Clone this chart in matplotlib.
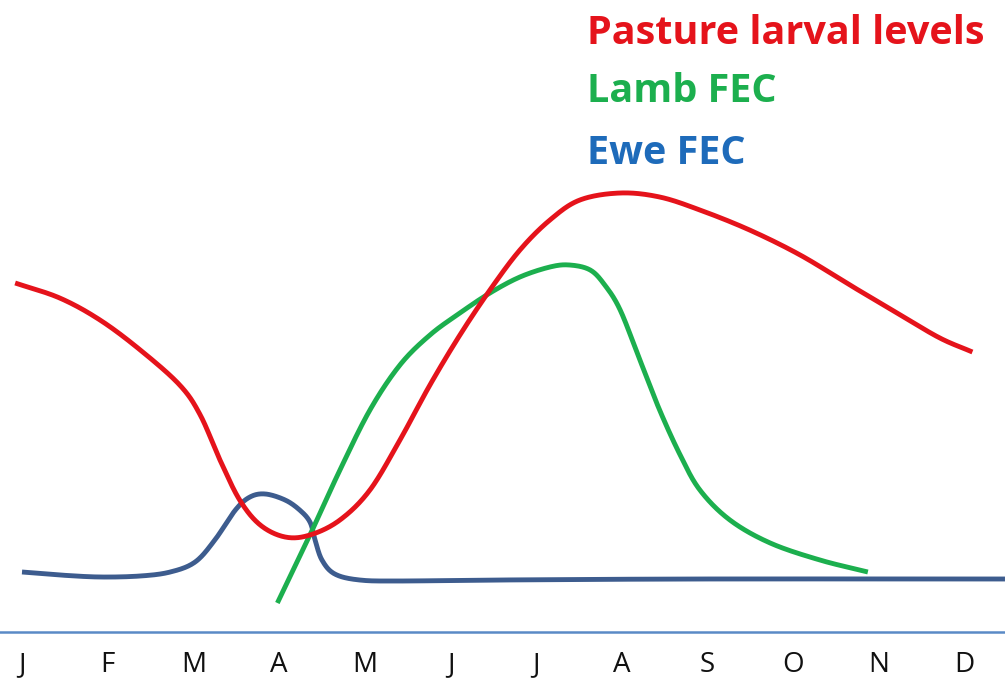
import numpy as np
import matplotlib
matplotlib.use("Agg")
import matplotlib.pyplot as plt

months = ["J", "F", "M", "A", "M", "J", "J", "A", "S", "O", "N", "D"]

# x in months (0 = Jan), y in arbitrary level units
pasture_x = [-0.08, 0.44, 0.91, 1.38, 1.84, 2.08, 2.31, 2.54, 2.78, 3.07, 3.36, 3.71, 4.06, 4.41, 4.76, 5.11, 5.46, 5.81, 6.16, 6.51, 6.98, 7.44, 7.91, 8.49, 9.08, 9.66, 10.25, 10.71, 11.09]
pasture_y = [407, 392, 370, 340, 305, 275, 230, 190, 165, 153, 155, 170, 200, 250, 305, 355, 400, 440, 470, 490, 497, 493, 480, 460, 435, 405, 375, 352, 338]

lamb_x = [2.98, 3.36, 3.71, 4.06, 4.41, 4.76, 5.11, 5.46, 5.81, 6.16, 6.39, 6.63, 6.80, 6.98, 7.21, 7.44, 7.68, 7.91, 8.26, 8.73, 9.31, 9.87]
lamb_y = [87, 155, 220, 280, 325, 355, 377, 397, 413, 423, 425, 420, 405, 380, 330, 280, 235, 200, 170, 147, 130, 118]

ewe_x = [0.0, 0.44, 0.91, 1.38, 1.73, 2.02, 2.25, 2.49, 2.66, 2.84, 3.07, 3.24, 3.36, 3.42, 3.50, 3.65, 3.94, 4.41, 5.58, 7.91, 11.47]
ewe_y = [118, 115, 113, 114, 118, 128, 150, 180, 193, 196, 190, 180, 168, 150, 130, 116, 110, 109, 110, 111, 111]


def smooth(xs, ys, n=30):
    x = np.asarray(xs, float)
    y = np.asarray(ys, float)
    px = np.concatenate([[2 * x[0] - x[1]], x, [2 * x[-1] - x[-2]]])
    py = np.concatenate([[2 * y[0] - y[1]], y, [2 * y[-1] - y[-2]]])
    ox, oy = [], []
    t = np.linspace(0, 1, n, endpoint=False)
    for i in range(1, len(px) - 2):
        for arr, out in ((px, ox), (py, oy)):
            p0, p1, p2, p3 = arr[i - 1], arr[i], arr[i + 1], arr[i + 2]
            out.extend(0.5 * ((2 * p1) + (-p0 + p2) * t +
                              (2 * p0 - 5 * p1 + 4 * p2 - p3) * t ** 2 +
                              (-p0 + 3 * p1 - 3 * p2 + p3) * t ** 3))
    ox.append(x[-1]); oy.append(y[-1])
    return np.array(ox), np.array(oy)


fig = plt.figure(figsize=(10.05, 6.90), dpi=100)
ax = fig.add_axes([0, 0, 1, 1])
step = 85.7
x0 = 22
ax.set_xlim(-x0 / step, (1005 - x0) / step)
ax.set_ylim(0, 690)
ax.axis("off")

red = "#E5131B"
green = "#1CAF4E"
blue_line = "#3D5C8E"
blue_text = "#1E6BBA"

for xs, ys, c in ((ewe_x, ewe_y, blue_line), (lamb_x, lamb_y, green), (pasture_x, pasture_y, red)):
    sx, sy = smooth(xs, ys)
    ax.plot(sx, sy, color=c, lw=3.5, solid_capstyle="butt")

ax.axhline(58, color="#5A8AC6", lw=1.8)

for i, m in enumerate(months):
    ax.text(i, 25, m, ha="center", va="center", fontsize=20, family="Open Sans", color="#111111")

lx = (587 - x0) / step
ax.text(lx, 656, "Pasture larval levels", color=red, fontsize=28.5, fontweight="bold", family="Open Sans", va="center", ha="left")
ax.text(lx, 598, "Lamb FEC", color=green, fontsize=28.5, fontweight="bold", family="Open Sans", va="center", ha="left")
ax.text(lx, 536, "Ewe FEC", color=blue_text, fontsize=28.5, fontweight="bold", family="Open Sans", va="center", ha="left")

fig.savefig("out.png", dpi=100)
